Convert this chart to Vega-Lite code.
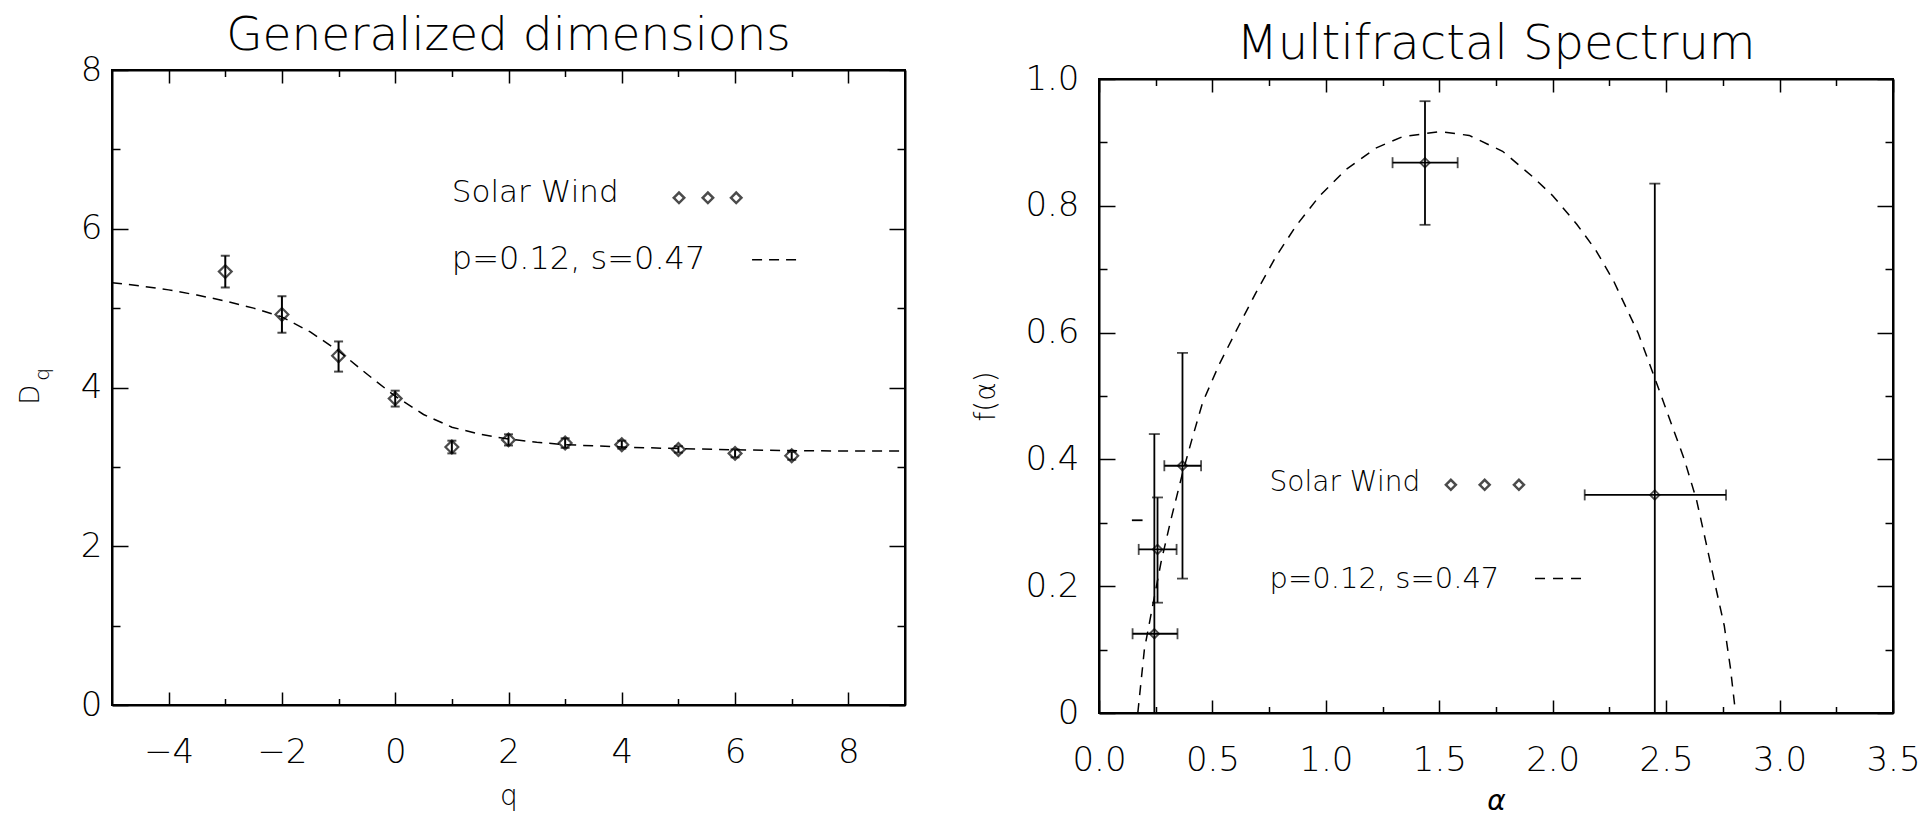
{
  "$schema": "https://vega.github.io/schema/vega-lite/v6.json",
  "background": "white",
  "padding": {"left": 16, "top": 10, "right": 0, "bottom": 0},
  "spacing": 64,
  "config": {
    "font": "DejaVu Sans",
    "view": {"stroke": "black", "strokeWidth": 2},
    "axis": {
      "domainColor": "black", "domainWidth": 2, "tickColor": "black", "tickWidth": 1.5,
      "labelFont": "DejaVu Sans", "labelFontWeight": 200, "labelFontSize": 34, "labelColor": "black",
      "titleFont": "DejaVu Sans", "titleFontWeight": 200, "titleFontSize": 28, "titleColor": "black",
      "grid": false, "labelOverlap": false, "labelFlush": false
    },
    "title": {"font": "DejaVu Sans", "fontWeight": 200, "fontSize": 47, "color": "black", "baseline": "alphabetic", "offset": -7}
  },
  "datasets": {
    "dq": [
      {"q": -3, "D": 5.46, "lo": 5.26, "hi": 5.66},
      {"q": -2, "D": 4.92, "lo": 4.69, "hi": 5.15},
      {"q": -1, "D": 4.40, "lo": 4.20, "hi": 4.58},
      {"q": 0, "D": 3.86, "lo": 3.76, "hi": 3.96},
      {"q": 1, "D": 3.25, "lo": 3.17, "hi": 3.33},
      {"q": 2, "D": 3.34, "lo": 3.27, "hi": 3.41},
      {"q": 3, "D": 3.30, "lo": 3.24, "hi": 3.36},
      {"q": 4, "D": 3.28, "lo": 3.23, "hi": 3.33},
      {"q": 5, "D": 3.22, "lo": 3.18, "hi": 3.26},
      {"q": 6, "D": 3.17, "lo": 3.12, "hi": 3.22},
      {"q": 7, "D": 3.14, "lo": 3.09, "hi": 3.19}
    ],
    "dqfit": [
      {"q": -5, "D": 5.32}, {"q": -4.5, "D": 5.28}, {"q": -4, "D": 5.23}, {"q": -3.5, "D": 5.165},
      {"q": -3, "D": 5.09}, {"q": -2.5, "D": 5.0}, {"q": -2, "D": 4.89}, {"q": -1.5, "D": 4.70},
      {"q": -1, "D": 4.46}, {"q": -0.5, "D": 4.17}, {"q": 0, "D": 3.89}, {"q": 0.5, "D": 3.66},
      {"q": 1, "D": 3.50}, {"q": 1.5, "D": 3.41}, {"q": 2, "D": 3.35}, {"q": 2.5, "D": 3.31},
      {"q": 3, "D": 3.28}, {"q": 3.5, "D": 3.265}, {"q": 4, "D": 3.25}, {"q": 5, "D": 3.23},
      {"q": 6, "D": 3.215}, {"q": 7, "D": 3.205}, {"q": 8, "D": 3.2}, {"q": 9, "D": 3.2}
    ],
    "fa": [
      {"a": 0.244, "f": 0.125, "alo": 0.148, "ahi": 0.346, "flo": -0.19, "fhi": 0.44},
      {"a": 0.258, "f": 0.258, "alo": 0.175, "ahi": 0.342, "flo": 0.174, "fhi": 0.34},
      {"a": 0.368, "f": 0.39, "alo": 0.288, "ahi": 0.45, "flo": 0.212, "fhi": 0.568},
      {"a": 1.437, "f": 0.868, "alo": 1.294, "ahi": 1.581, "flo": 0.77, "fhi": 0.965},
      {"a": 2.45, "f": 0.344, "alo": 2.141, "ahi": 2.764, "flo": -0.147, "fhi": 0.835}
    ],
    "fafit": [
      {"a": 0.171, "f": 0.0}, {"a": 0.2, "f": 0.1}, {"a": 0.236, "f": 0.168}, {"a": 0.273, "f": 0.237},
      {"a": 0.317, "f": 0.305}, {"a": 0.368, "f": 0.378}, {"a": 0.41, "f": 0.432}, {"a": 0.457, "f": 0.49},
      {"a": 0.53, "f": 0.55}, {"a": 0.618, "f": 0.612}, {"a": 0.692, "f": 0.663}, {"a": 0.78, "f": 0.72},
      {"a": 0.868, "f": 0.768}, {"a": 0.971, "f": 0.815}, {"a": 1.088, "f": 0.857}, {"a": 1.22, "f": 0.891},
      {"a": 1.338, "f": 0.909}, {"a": 1.5, "f": 0.917}, {"a": 1.632, "f": 0.911}, {"a": 1.779, "f": 0.886},
      {"a": 1.911, "f": 0.846}, {"a": 2.0, "f": 0.816}, {"a": 2.106, "f": 0.771}, {"a": 2.19, "f": 0.73},
      {"a": 2.269, "f": 0.681}, {"a": 2.377, "f": 0.599}, {"a": 2.445, "f": 0.533}, {"a": 2.512, "f": 0.467},
      {"a": 2.58, "f": 0.40}, {"a": 2.634, "f": 0.336}, {"a": 2.675, "f": 0.27}, {"a": 2.715, "f": 0.204},
      {"a": 2.756, "f": 0.138}, {"a": 2.783, "f": 0.072}, {"a": 2.806, "f": 0.0}
    ],
    "stray": [{"a1": 0.145, "a2": 0.192, "f": 0.304}],
    "one": [{}]
  },
  "hconcat": [
    {
      "spacing": 0,
      "vconcat": [
        {
          "width": 793, "height": 1,
          "view": {"stroke": null, "fill": "white"},
          "data": {"name": "one"},
          "mark": {"type": "point", "opacity": 0, "size": 1},
          "encoding": {}
        },
        {
          "width": 793, "height": 635,
          "title": {"text": "Generalized dimensions"},
          "resolve": {"axis": {"x": "independent", "y": "independent"}},
          "layer": [
            {
              "data": {"name": "dqfit"},
              "mark": {"type": "line", "stroke": "black", "strokeWidth": 1.5, "strokeDash": [10, 7], "clip": true},
              "encoding": {
                "x": {"field": "q", "type": "quantitative", "scale": {"domain": [-5, 9], "nice": false, "zero": false},
                  "axis": {"orient": "bottom", "title": "q", "values": [-4, -3, -2, -1, 0, 1, 2, 3, 4, 5, 6, 7, 8],
                    "tickSize": {"condition": {"test": "datum.value % 2 === 0", "value": -13}, "value": -6.5},
                    "labelExpr": "datum.value % 2 === 0 ? format(datum.value, 'd') : ''",
                    "labelPadding": 43, "titlePadding": 7}},
                "y": {"field": "D", "type": "quantitative", "scale": {"domain": [0, 8], "nice": false, "zero": false},
                  "axis": {"orient": "left", "title": null, "values": [0, 1, 2, 3, 4, 5, 6, 7, 8],
                    "tickSize": {"condition": {"test": "datum.value % 2 === 0", "value": -16}, "value": -8},
                    "labelExpr": "datum.value % 2 === 0 ? format(datum.value, 'd') : ''",
                    "labelPadding": 26}}
              }
            },
            {
              "data": {"name": "dq"},
              "mark": {"type": "point", "shape": "diamond", "filled": false, "stroke": "black", "strokeWidth": 2.2, "size": 165},
              "encoding": {
                "x": {"field": "q", "type": "quantitative", "scale": {"domain": [-5, 9], "nice": false, "zero": false},
                  "axis": {"orient": "top", "title": null, "labels": false, "values": [-4, -3, -2, -1, 0, 1, 2, 3, 4, 5, 6, 7, 8],
                    "tickSize": {"condition": {"test": "datum.value % 2 === 0", "value": -13}, "value": -6.5}}},
                "y": {"field": "D", "type": "quantitative", "scale": {"domain": [0, 8], "nice": false, "zero": false},
                  "axis": {"orient": "right", "title": null, "labels": false, "values": [0, 1, 2, 3, 4, 5, 6, 7, 8],
                    "tickSize": {"condition": {"test": "datum.value % 2 === 0", "value": -16}, "value": -8}}}
              }
            },
            {
              "data": {"name": "dq"},
              "mark": {"type": "rule", "stroke": "black", "strokeWidth": 2},
              "encoding": {
                "x": {"field": "q", "type": "quantitative", "axis": null},
                "y": {"field": "lo", "type": "quantitative", "axis": null},
                "y2": {"field": "hi"}
              }
            },
            {
              "data": {"name": "dq"},
              "mark": {"type": "tick", "orient": "horizontal", "color": "black", "size": 9, "thickness": 2},
              "encoding": {
                "x": {"field": "q", "type": "quantitative", "axis": null},
                "y": {"field": "hi", "type": "quantitative", "axis": null}
              }
            },
            {
              "data": {"name": "dq"},
              "mark": {"type": "tick", "orient": "horizontal", "color": "black", "size": 9, "thickness": 2},
              "encoding": {
                "x": {"field": "q", "type": "quantitative", "axis": null},
                "y": {"field": "lo", "type": "quantitative", "axis": null}
              }
            },
            {
              "data": {"name": "one"},
              "mark": {"type": "text", "text": "D", "fontSize": 26, "fontWeight": 200, "angle": 270, "align": "left", "baseline": "alphabetic"},
              "encoding": {"x": {"datum": -6.289, "type": "quantitative", "axis": null}, "y": {"datum": 3.783, "type": "quantitative", "axis": null}}
            },
            {
              "data": {"name": "one"},
              "mark": {"type": "text", "text": "q", "fontSize": 20, "fontWeight": 200, "angle": 270, "align": "left", "baseline": "alphabetic"},
              "encoding": {"x": {"datum": -6.112, "type": "quantitative", "axis": null}, "y": {"datum": 4.086, "type": "quantitative", "axis": null}}
            },
            {
              "data": {"name": "one"},
              "mark": {"type": "text", "text": "Solar Wind", "fontSize": 31, "fontWeight": 200, "align": "left", "baseline": "alphabetic"},
              "encoding": {"x": {"datum": 1.0, "type": "quantitative", "axis": null}, "y": {"datum": 6.34, "type": "quantitative", "axis": null}}
            },
            {
              "data": {"name": "one"},
              "mark": {"type": "text", "text": "p=0.12, s=0.47", "fontSize": 32, "fontWeight": 200, "align": "left", "baseline": "alphabetic"},
              "encoding": {"x": {"datum": 1.0, "type": "quantitative", "axis": null}, "y": {"datum": 5.49, "type": "quantitative", "axis": null}}
            },
            {
              "data": {"name": "one"},
              "mark": {"type": "point", "shape": "diamond", "filled": false, "stroke": "black", "strokeWidth": 2.5, "size": 110},
              "encoding": {"x": {"datum": 5.01, "type": "quantitative", "axis": null}, "y": {"datum": 6.39, "type": "quantitative", "axis": null}}
            },
            {
              "data": {"name": "one"},
              "mark": {"type": "point", "shape": "diamond", "filled": false, "stroke": "black", "strokeWidth": 2.5, "size": 110},
              "encoding": {"x": {"datum": 5.52, "type": "quantitative", "axis": null}, "y": {"datum": 6.39, "type": "quantitative", "axis": null}}
            },
            {
              "data": {"name": "one"},
              "mark": {"type": "point", "shape": "diamond", "filled": false, "stroke": "black", "strokeWidth": 2.5, "size": 110},
              "encoding": {"x": {"datum": 6.02, "type": "quantitative", "axis": null}, "y": {"datum": 6.39, "type": "quantitative", "axis": null}}
            },
            {
              "data": {"name": "one"},
              "mark": {"type": "rule", "stroke": "black", "strokeWidth": 1.5, "strokeDash": [10, 7]},
              "encoding": {"x": {"datum": 6.3, "type": "quantitative", "axis": null}, "x2": {"datum": 7.11}, "y": {"datum": 5.61, "type": "quantitative", "axis": null}}
            }
          ]
        }
      ]
    },
    {
      "spacing": 0,
      "vconcat": [
        {
          "width": 794, "height": 10,
          "view": {"stroke": null, "fill": "white"},
          "data": {"name": "one"},
          "mark": {"type": "point", "opacity": 0, "size": 1},
          "encoding": {}
        },
        {
          "width": 794, "height": 634,
          "title": {"text": "Multifractal Spectrum", "fontSize": 48},
          "resolve": {"axis": {"x": "independent", "y": "independent"}},
          "layer": [
            {
              "data": {"name": "fafit"},
              "mark": {"type": "line", "stroke": "black", "strokeWidth": 1.5, "strokeDash": [10, 8], "clip": true},
              "encoding": {
                "x": {"field": "a", "type": "quantitative", "scale": {"domain": [0, 3.5], "nice": false, "zero": false},
                  "axis": {"orient": "bottom", "title": "α", "titleFontStyle": "italic", "values": [0, 0.25, 0.5, 0.75, 1, 1.25, 1.5, 1.75, 2, 2.25, 2.5, 2.75, 3, 3.25, 3.5],
                    "tickSize": {"condition": {"test": "round(datum.value * 4) % 2 === 0", "value": -13}, "value": -6.5},
                    "labelExpr": "round(datum.value * 4) % 2 === 0 ? format(datum.value, '.1f') : ''",
                    "labelPadding": 43, "titlePadding": 4}},
                "y": {"field": "f", "type": "quantitative", "scale": {"domain": [0, 1], "nice": false, "zero": false},
                  "axis": {"orient": "left", "title": "f(α)", "values": [0, 0.1, 0.2, 0.3, 0.4, 0.5, 0.6, 0.7, 0.8, 0.9, 1.0],
                    "tickSize": {"condition": {"test": "round(datum.value * 10) % 2 === 0", "value": -16}, "value": -8},
                    "labelExpr": "datum.value === 0 ? '0' : (round(datum.value * 10) % 2 === 0 ? format(datum.value, '.1f') : '')",
                    "labelPadding": 36, "titlePadding": 24}}
              }
            },
            {
              "data": {"name": "fa"},
              "mark": {"type": "point", "shape": "diamond", "filled": false, "stroke": "black", "strokeWidth": 1.8, "size": 90},
              "encoding": {
                "x": {"field": "a", "type": "quantitative", "scale": {"domain": [0, 3.5], "nice": false, "zero": false},
                  "axis": {"orient": "top", "title": null, "labels": false, "values": [0, 0.25, 0.5, 0.75, 1, 1.25, 1.5, 1.75, 2, 2.25, 2.5, 2.75, 3, 3.25, 3.5],
                    "tickSize": {"condition": {"test": "round(datum.value * 4) % 2 === 0", "value": -13}, "value": -6.5}}},
                "y": {"field": "f", "type": "quantitative", "scale": {"domain": [0, 1], "nice": false, "zero": false},
                  "axis": {"orient": "right", "title": null, "labels": false, "values": [0, 0.1, 0.2, 0.3, 0.4, 0.5, 0.6, 0.7, 0.8, 0.9, 1.0],
                    "tickSize": {"condition": {"test": "round(datum.value * 10) % 2 === 0", "value": -16}, "value": -8}}}
              }
            },
            {
              "data": {"name": "fa"},
              "mark": {"type": "rule", "stroke": "black", "strokeWidth": 1.8, "clip": true},
              "encoding": {
                "x": {"field": "a", "type": "quantitative", "axis": null},
                "y": {"field": "flo", "type": "quantitative", "axis": null},
                "y2": {"field": "fhi"}
              }
            },
            {
              "data": {"name": "fa"},
              "mark": {"type": "rule", "stroke": "black", "strokeWidth": 1.8, "clip": true},
              "encoding": {
                "x": {"field": "alo", "type": "quantitative", "axis": null},
                "x2": {"field": "ahi"},
                "y": {"field": "f", "type": "quantitative", "axis": null}
              }
            },
            {
              "data": {"name": "fa"},
              "mark": {"type": "tick", "orient": "horizontal", "color": "black", "size": 11, "thickness": 1.8, "clip": true},
              "encoding": {
                "x": {"field": "a", "type": "quantitative", "axis": null},
                "y": {"field": "fhi", "type": "quantitative", "axis": null}
              }
            },
            {
              "data": {"name": "fa"},
              "mark": {"type": "tick", "orient": "horizontal", "color": "black", "size": 11, "thickness": 1.8, "clip": true},
              "encoding": {
                "x": {"field": "a", "type": "quantitative", "axis": null},
                "y": {"field": "flo", "type": "quantitative", "axis": null}
              }
            },
            {
              "data": {"name": "fa"},
              "mark": {"type": "tick", "orient": "vertical", "color": "black", "size": 11, "thickness": 1.8, "clip": true},
              "encoding": {
                "x": {"field": "alo", "type": "quantitative", "axis": null},
                "y": {"field": "f", "type": "quantitative", "axis": null}
              }
            },
            {
              "data": {"name": "fa"},
              "mark": {"type": "tick", "orient": "vertical", "color": "black", "size": 11, "thickness": 1.8, "clip": true},
              "encoding": {
                "x": {"field": "ahi", "type": "quantitative", "axis": null},
                "y": {"field": "f", "type": "quantitative", "axis": null}
              }
            },
            {
              "data": {"name": "stray"},
              "mark": {"type": "rule", "stroke": "black", "strokeWidth": 1.8},
              "encoding": {
                "x": {"field": "a1", "type": "quantitative", "axis": null},
                "x2": {"field": "a2"},
                "y": {"field": "f", "type": "quantitative", "axis": null}
              }
            },
            {
              "data": {"name": "one"},
              "mark": {"type": "text", "text": "Solar Wind", "fontSize": 28, "fontWeight": 200, "align": "left", "baseline": "alphabetic"},
              "encoding": {"x": {"datum": 0.752, "type": "quantitative", "axis": null}, "y": {"datum": 0.35, "type": "quantitative", "axis": null}}
            },
            {
              "data": {"name": "one"},
              "mark": {"type": "text", "text": "p=0.12, s=0.47", "fontSize": 29, "fontWeight": 200, "align": "left", "baseline": "alphabetic"},
              "encoding": {"x": {"datum": 0.752, "type": "quantitative", "axis": null}, "y": {"datum": 0.197, "type": "quantitative", "axis": null}}
            },
            {
              "data": {"name": "one"},
              "mark": {"type": "point", "shape": "diamond", "filled": false, "stroke": "black", "strokeWidth": 2.5, "size": 100},
              "encoding": {"x": {"datum": 1.551, "type": "quantitative", "axis": null}, "y": {"datum": 0.36, "type": "quantitative", "axis": null}}
            },
            {
              "data": {"name": "one"},
              "mark": {"type": "point", "shape": "diamond", "filled": false, "stroke": "black", "strokeWidth": 2.5, "size": 100},
              "encoding": {"x": {"datum": 1.70, "type": "quantitative", "axis": null}, "y": {"datum": 0.36, "type": "quantitative", "axis": null}}
            },
            {
              "data": {"name": "one"},
              "mark": {"type": "point", "shape": "diamond", "filled": false, "stroke": "black", "strokeWidth": 2.5, "size": 100},
              "encoding": {"x": {"datum": 1.851, "type": "quantitative", "axis": null}, "y": {"datum": 0.36, "type": "quantitative", "axis": null}}
            },
            {
              "data": {"name": "one"},
              "mark": {"type": "rule", "stroke": "black", "strokeWidth": 1.5, "strokeDash": [10, 8]},
              "encoding": {"x": {"datum": 1.922, "type": "quantitative", "axis": null}, "x2": {"datum": 2.16}, "y": {"datum": 0.212, "type": "quantitative", "axis": null}}
            }
          ]
        }
      ]
    }
  ]
}
